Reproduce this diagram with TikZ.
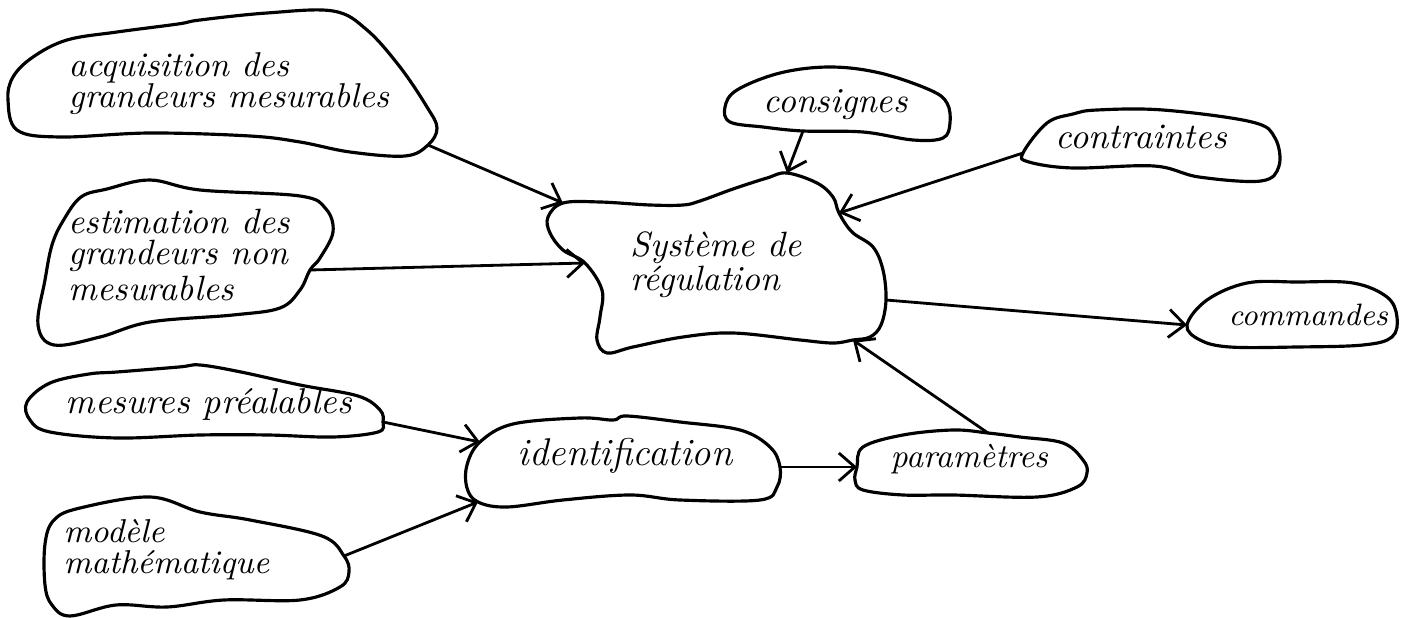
\documentclass[tikz,border=0pt]{standalone}
\usepackage{fontspec}
\usetikzlibrary{arrows.meta}

\begin{document}
\begin{tikzpicture}[x=0.01cm,y=-0.01cm,>={Straight Barb[length=1.6mm,width=2.8mm]},
  blob/.style={line width=0.9pt,line join=round},
  arr/.style={->,line width=0.8pt},
  lbl/.style={font=\fontsize{#1}{8.8}\selectfont\itshape,align=left,anchor=base west,inner sep=0pt},
  lbl/.default=10]
\useasboundingbox (0,0) rectangle (1402,618);
\coordinate (acq-o) at (428,145);
\coordinate (est-o) at (310,270);
\coordinate (mes-o) at (383,422);
\coordinate (mod-o) at (344,556);
\coordinate (sys-a) at (563,203);
\coordinate (sys-c) at (787,173);
\coordinate (sys-t) at (839,213);
\coordinate (sys-o) at (886,300);
\coordinate (sys-p) at (853,340);
\coordinate (sys-e) at (585,263);
\coordinate (cons-o) at (803,131);
\coordinate (cont-o) at (1023,153);
\coordinate (com-i) at (1187,325);
\coordinate (id-a) at (480,442);
\coordinate (id-o) at (780,467);
\coordinate (id-b) at (478,502);
\coordinate (par-i) at (857,467);
\coordinate (par-o) at (988,433);
\draw[blob] plot[smooth cycle,tension=.6] coordinates {(8,100) (13,77) (33,57) (67,40) (117,32) (178,24)
  (200,20) (267,13) (333,11) (367,30) (400,67) (427,107) (437,128) (acq-o) (405,156) (350,152)
  (300,142) (250,136) (150,133) (60,137) (17,130)};
\draw[blob] plot[smooth cycle,tension=.6] coordinates {(63,221) (81,197) (107,189) (150,180) (200,190)
  (300,196) (326,209) (333,232) (320,258) (est-o) (300,290) (280,308) (233,315) (150,322) (100,337)
  (54,345) (38,325) (45,280) (52,245)};
\draw[blob] plot[smooth cycle,tension=.6] coordinates {(27,402) (50,383) (89,374) (117,372) (179,367)
  (200,365) (241,372) (300,385) (358,396) (380,410) (mes-o) (378,432) (333,437) (268,435) (200,435)
  (117,438) (50,432) (30,420)};
\draw[blob] plot[smooth cycle,tension=.6] coordinates {(54,520) (80,508) (150,497) (200,512) (250,520)
  (322,536) (mod-o) (349,572) (340,587) (300,600) (224,600) (167,607) (116,605) (70,616) (52,605)
  (45,585) (45,544)};
\draw[blob] plot[smooth cycle,tension=.6] coordinates {(548,217) (sys-a) (600,202) (650,205) (683,205)
  (700,201) (733,189) (767,178) (sys-c) (817,183) (833,197) (sys-t) (852,232) (873,247) (883,270)
  (sys-o) (881,325) (870,337) (sys-p) (833,343) (800,340) (733,333) (683,337) (633,347) (607,353)
  (597,340) (600,317) (602,290) (sys-e) (563,250) (550,233)};
\draw[blob] plot[smooth cycle,tension=.6] coordinates {(725,107) (737,90) (780,73) (830,67) (880,73)
  (930,90) (947,103) (950,123) (943,138) (913,140) (863,132) (cons-o) (763,127) (730,122)};
\draw[blob] plot[smooth cycle,tension=.6] coordinates {(cont-o) (1047,123) (1073,114) (1097,110)
  (1163,110) (1252,122) (1275,138) (1279,166) (1261,181) (1199,177) (1154,166) (1073,168) (1029,162)};
\draw[blob] plot[smooth cycle,tension=.6] coordinates {(com-i) (1207,300) (1247,283) (1297,282)
  (1353,283) (1387,297) (1397,317) (1392,337) (1363,345) (1297,347) (1230,347) (1200,340)};
\draw[blob] plot[smooth cycle,tension=.6] coordinates {(467,465) (id-a) (513,424) (580,418) (613,420)
  (627,416) (680,422) (740,430) (770,447) (id-o) (777,487) (760,500) (680,500) (630,495) (563,500)
  (507,507) (id-b) (467,488)};
\draw[blob] plot[smooth cycle,tension=.6] coordinates {(par-i) (863,447) (903,435) (953,430) (par-o)
  (1020,437) (1063,443) (1083,460) (1087,473) (1077,487) (1037,497) (953,495) (903,495) (863,490)
  (855,480)};
\node[lbl=9.8] (acq) at (68,107) {acquisition des\\grandeurs mesurables};
\node[lbl] (est) at (68,300) {estimation des\\grandeurs non\\mesurables};
\node[lbl=10.2] (mes) at (65,413) {mesures préalables};
\node[lbl=9.4] (mod) at (63,573) {modèle\\mathématique};
\node[lbl,font=\fontsize{10}{9.4}\selectfont\itshape] (sys) at (630,290) {Système de\\régulation};
\node[lbl] (cons) at (763,113) {consignes};
\node[lbl=10.2] (cont) at (1055,149) {contraintes};
\node[lbl=8.8] (com) at (1228,325) {commandes};
\node[lbl=11] (id) at (517,465) {identification};
\node[lbl=9.5] (par) at (890,467) {paramètres};
\draw[arr] (acq-o) -- (sys-a);
\draw[arr] (est-o) -- (sys-e);
\draw[arr] (cons-o) -- (sys-c);
\draw[arr] (cont-o) -- (sys-t);
\draw[arr] (sys-o) -- (com-i);
\draw[arr] (par-o) -- (sys-p);
\draw[arr] (mes-o) -- (id-a);
\draw[arr] (mod-o) -- (id-b);
\draw[arr] (id-o) -- (par-i);
\end{tikzpicture}
\end{document}
